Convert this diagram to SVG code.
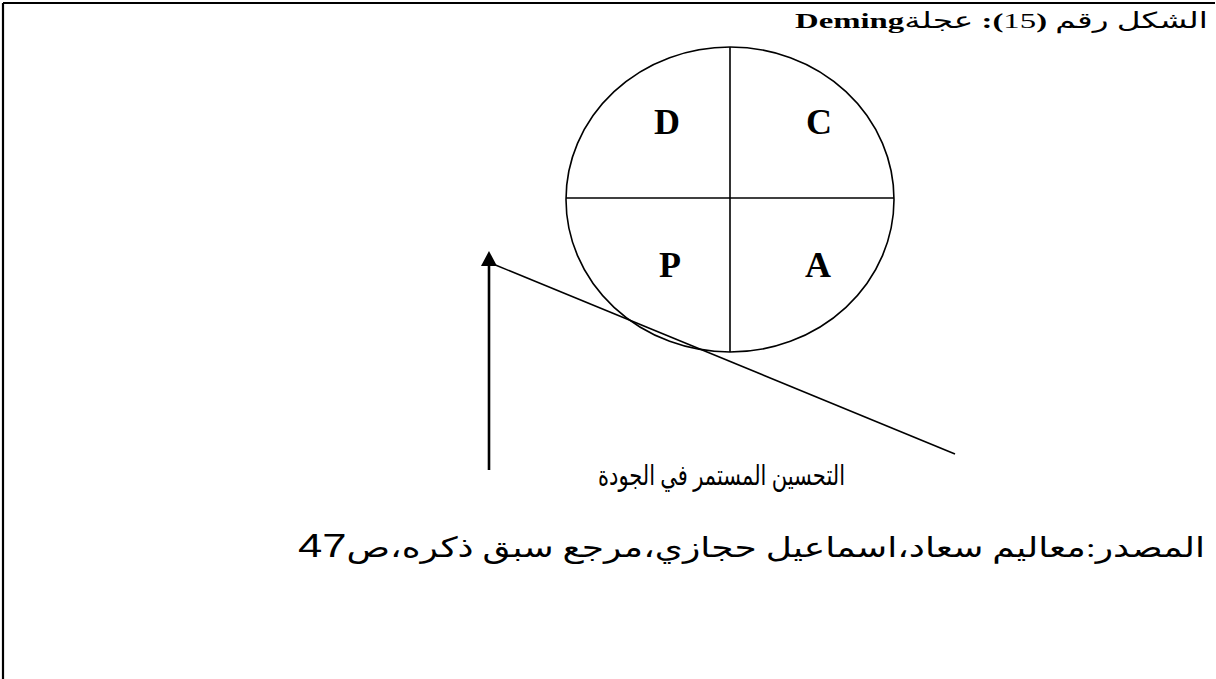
<svg xmlns="http://www.w3.org/2000/svg" width="1216" height="679" viewBox="0 0 1216 679">
<style>
.ln{stroke:#000;fill:none;stroke-width:1.6}
.ar{font-family:"Liberation Serif","DejaVu Sans",serif;fill:#000}
.lt{font-family:"Liberation Serif",serif;font-weight:bold;font-size:36px;fill:#000;text-anchor:middle}
</style>
<rect width="1216" height="679" fill="#fff"/>
<g id="frame">
<path d="M3,3 H1215 M3,3 V679" stroke="#000" stroke-width="2.2" fill="none"/>
</g>
<g id="title">
<text class="ar" x="1208" y="28" font-size="22" direction="rtl" text-anchor="start" textLength="413" lengthAdjust="spacingAndGlyphs">الشكل رقم <tspan font-weight="bold">(</tspan>15<tspan font-weight="bold">):</tspan> عجلة<tspan font-weight="bold">Deming</tspan></text>
</g>
<g id="wheel">
<ellipse class="ln" cx="730" cy="199.5" rx="164" ry="152.5"/>
<line class="ln" x1="730" y1="47" x2="730" y2="352"/>
<line class="ln" x1="566" y1="198" x2="894" y2="198"/>
<text class="lt" x="667" y="134">D</text>
<text class="lt" x="819" y="134">C</text>
<text class="lt" x="670" y="277">P</text>
<text class="lt" x="818" y="277">A</text>
</g>
<g id="connectors">
<line class="ln" x1="493" y1="264" x2="955" y2="454"/>
<line x1="489" y1="470" x2="489" y2="262" stroke="#000" stroke-width="2.6"/>
<polygon points="489,251 481,266 497,266" fill="#000"/>
</g>
<g id="label">
<text class="ar" x="845" y="485" font-size="28" direction="rtl" text-anchor="start" textLength="247" lengthAdjust="spacingAndGlyphs">التحسين المستمر في الجودة</text>
</g>
<g id="source">
<text class="ar" x="1205" y="557" font-size="28" direction="rtl" text-anchor="start" textLength="907" lengthAdjust="spacingAndGlyphs">المصدر:معاليم سعاد،اسماعيل حجازي،مرجع سبق ذكره،ص<tspan font-family="Liberation Sans,sans-serif" font-size="34">47</tspan></text>
</g>
</svg>
